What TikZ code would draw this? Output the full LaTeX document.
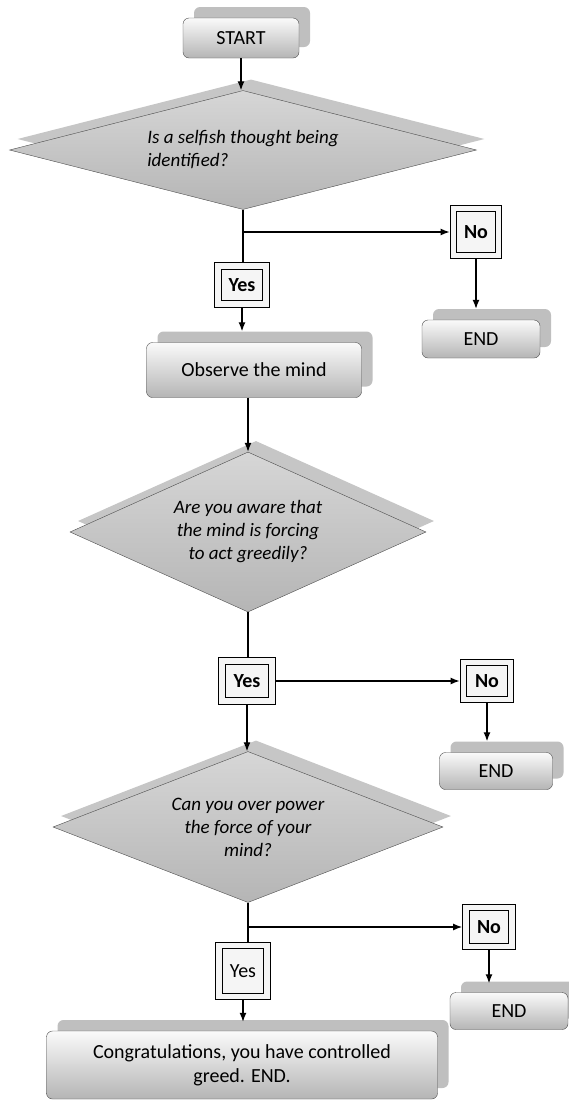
\documentclass[tikz,border=0pt]{standalone}
\usepackage{fontspec}
\setmainfont{Carlito}
\usetikzlibrary{shapes.geometric,shadows,arrows.meta}

\begin{document}
\begin{tikzpicture}[x=1pt, y=-1pt, >={Latex[length=9pt,width=7pt]},
    box/.style={draw=gray!60!black, rounded corners=6pt, top color=gray!4, bottom color=gray!58,
        copy shadow={shadow xshift=11pt, shadow yshift=11pt, fill=gray!50, draw=none, opacity=1},
        font=\fontsize{20}{24}\selectfont, align=center, inner sep=0pt},
    question/.style={diamond, draw=gray!60!black, top color=gray!32, middle color=gray!12, bottom color=gray!58,
        copy shadow={shadow xshift=8pt, shadow yshift=11pt, fill=gray!45, draw=none, opacity=1},
        font=\fontsize{19}{23}\selectfont\itshape, inner sep=0pt},
    answer/.style={draw=black, line width=1.1pt, double=gray!8, double distance=5.5pt, fill=gray!8,
        outer sep=3.9pt, font=\fontsize{20}{22}\selectfont\bfseries, inner sep=0pt},
    link/.style={line width=1.3pt}]
    \useasboundingbox (0,0) rectangle (568,1101);

    % first question
    \node[box, minimum width=116pt, minimum height=40pt] (start) at (241,38) {START};
    \node[question, shape aspect=3.9, minimum width=467pt, minimum height=119pt, align=left] (d1) at (243,150)
        {Is a selfish thought being\\identified?};
    \node[answer, minimum width=48pt, minimum height=38pt] (yes1) at (242,285) {Yes};
    \node[answer, minimum width=45pt, minimum height=47pt] (no1) at (476,232) {No};
    \node[box, minimum width=118pt, minimum height=38pt] (end1) at (481,339) {END};
    \node[box, minimum width=215pt, minimum height=55pt] (obs) at (254,370) {Observe the mind};

    % second question
    \node[question, shape aspect=2.2, minimum width=356pt, minimum height=160pt, align=center] (d2) at (248,532)
        {Are you aware that\\the mind is forcing\\to act greedily?};
    \node[answer, minimum width=50pt, minimum height=40pt] (yes2) at (247,681) {Yes};
    \node[answer, minimum width=47pt, minimum height=37pt] (no2) at (487,681) {No};
    \node[box, minimum width=113pt, minimum height=37pt] (end2) at (496,771) {END};

    % third question
    \node[question, shape aspect=2.6, minimum width=390pt, minimum height=151pt, align=center] (d3) at (248,827)
        {Can you over power\\the force of your\\mind?};
    \node[answer, minimum width=48pt, minimum height=51pt, font=\fontsize{20}{22}\selectfont] (yes3) at (243,971) {Yes};
    \node[answer, minimum width=46pt, minimum height=39pt] (no3) at (489,927) {No};
    \node[box, minimum width=118pt, minimum height=37pt] (end3) at (509,1011) {END};
    \node[box, minimum width=391pt, minimum height=68pt] (cong) at (242,1065)
        {Congratulations, you have controlled\\greed. END.};

    % connectors
    \draw[link,->] (start) -- (start |- d1.north);
    \draw[link] (d1.south) -- (d1.south |- yes1.north);
    \coordinate (j1) at (d1.south |- no1);
    \draw[link,->] (j1) -- (no1);
    \draw[link,->] (no1) -- ([yshift=11pt]no1 |- end1.north);
    \draw[link,->] (yes1) -- ([yshift=11pt]yes1 |- obs.north);
    \draw[link,->] (d2.north |- obs.south) -- (d2.north);
    \draw[link] (d2.south) -- (d2.south |- yes2.north);
    \draw[link,->] (yes2) -- (no2);
    \draw[link,->] (no2) -- ([yshift=11pt]no2 |- end2.north);
    \draw[link,->] (yes2) -- (yes2 |- d3.north);
    \draw[link] (d3.south) -- (d3.south |- yes3.north);
    \coordinate (j3) at (d3.south |- no3);
    \draw[link,->] (j3) -- (no3);
    \draw[link,->] (no3) -- ([yshift=9pt]no3 |- end3.north);
    \draw[link,->] (yes3) -- ([yshift=9pt]yes3 |- cong.north);
\end{tikzpicture}
\end{document}
